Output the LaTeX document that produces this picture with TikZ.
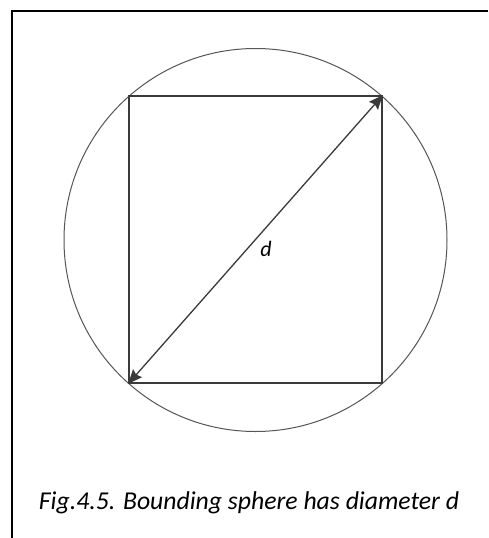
\documentclass[tikz,border=0pt]{standalone}
\usepackage{fontspec}
\setmainfont{Carlito}
\usetikzlibrary{arrows.meta, positioning}
\definecolor{linegray}{HTML}{3A3A3A}
\definecolor{rimgray}{HTML}{555555}
\tikzset{
  frameline/.style={line width=2pt, draw=black},
  cube/.style={draw=linegray, line width=1.4pt, minimum width=253pt,
               minimum height=287pt, inner sep=0pt},
  sphere/.style={circle, draw=rimgray, line width=1pt, minimum size=383pt,
                 inner sep=0pt},
  diam/.style={{Stealth[length=14pt, width=12pt, inset=2pt]}-{Stealth[length=14pt, width=12pt, inset=2pt]},
               line width=1.3pt, draw=linegray},
}

\begin{document}
\begin{tikzpicture}[x=1pt, y=-1pt]
  \useasboundingbox (0,0) rectangle (488,538);
  % page frame
  \draw[frameline] (488,11) -- (12,11) -- (12,538);
  \node[sphere] (ball) at (255.5,240) {};
  \node[cube] (box) at (255.5,239.5) {};
  \draw[diam] (box.south west) -- (box.north east);
  \node[font=\fontsize{22}{26}\selectfont\itshape] (dlbl) at (266,249) {d};
  \node[font=\fontsize{25.7}{31}\selectfont\itshape] (caption) at (249,503)
    {Fig.4.5. Bounding sphere has diameter d};
\end{tikzpicture}
\end{document}
